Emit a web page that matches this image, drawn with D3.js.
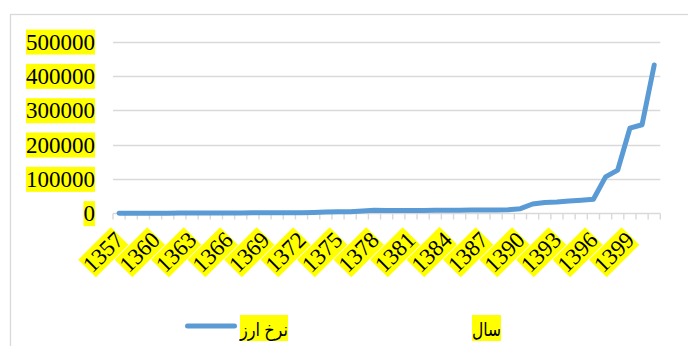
<!DOCTYPE html>
<html>
<head>
<meta charset="utf-8">
<script src="https://cdn.jsdelivr.net/npm/d3@7/dist/d3.min.js"></script>
<style>
  html, body { margin: 0; padding: 0; background: #fff; }
  svg { display: block; }
</style>
</head>
<body>
<svg id="chart" width="688" height="346"></svg>
<script>
// Years (Solar Hijri) on the category axis
const years = [
  1357, 1358, 1359, 1360, 1361, 1362, 1363, 1364, 1365, 1366,
  1367, 1368, 1369, 1370, 1371, 1372, 1373, 1374, 1375, 1376,
  1377, 1378, 1379, 1380, 1381, 1382, 1383, 1384, 1385, 1386,
  1387, 1388, 1389, 1390, 1391, 1392, 1393, 1394, 1395, 1396,
  1397, 1398, 1399, 1400, 1401
];

// Exchange rate (rial per US dollar)
const rates = [
  71, 110, 200, 350, 450, 560, 650, 770, 880, 1000,
  1100, 1250, 1400, 1450, 1500, 1750, 2650, 4000, 4200, 4700,
  6500, 8700, 8100, 7900, 7950, 8300, 8700, 9000, 9200, 9400,
  9800, 9950, 10600, 13500, 27000, 31500, 33000, 35500, 38000, 41000,
  106000, 126000, 248000, 258000, 432000
];

// Value-axis ticks
const yTicks = [0, 100000, 200000, 300000, 400000, 500000];

// Labelled years on the category axis
const xLabels = [1357, 1360, 1363, 1366, 1369, 1372, 1375, 1378, 1381, 1384, 1387, 1390, 1393, 1396, 1399];

const seriesName = "نرخ ارز";
const axisTitle = "سال";

const svg = d3.select("#chart");
const numFont = "'Liberation Serif', 'Times New Roman', serif";
const arFont = "'Liberation Serif', 'DejaVu Sans', serif";
const highlight = "#FFFF00";
const gridColor = "#D9D9D9";
const lineColor = "#5B9BD5";

// Outer chart border
svg.append("rect")
  .attr("x", 10.5).attr("y", 14.5)
  .attr("width", 760).attr("height", 400)
  .attr("fill", "none").attr("stroke", gridColor).attr("stroke-width", 1.3);

const plot = { left: 113, right: 660.3, top: 41.7, bottom: 213.3 };

const x = d3.scaleBand().domain(years).range([plot.left, plot.right]).padding(0);
const y = d3.scaleLinear().domain([0, 500000]).range([plot.bottom, plot.top]);
const cx = d => x(d) + x.bandwidth() / 2;

// Horizontal gridlines
svg.append("g").selectAll("line")
  .data(yTicks.filter(v => v > 0))
  .join("line")
  .attr("x1", plot.left).attr("x2", plot.right)
  .attr("y1", d => Math.round(y(d)) + 0.5).attr("y2", d => Math.round(y(d)) + 0.5)
  .attr("stroke", gridColor).attr("stroke-width", 1.4);

// Category axis line with boundary tick marks
const axisY = Math.round(y(0)) + 0.5;
svg.append("line")
  .attr("x1", plot.left).attr("x2", plot.right)
  .attr("y1", axisY).attr("y2", axisY)
  .attr("stroke", gridColor).attr("stroke-width", 1.4);
const bounds = years.map(d => x(d)).concat([plot.right]);
svg.append("g").selectAll("line")
  .data(bounds)
  .join("line")
  .attr("x1", d => d).attr("x2", d => d)
  .attr("y1", axisY).attr("y2", axisY + 6)
  .attr("stroke", gridColor).attr("stroke-width", 1.4);

// Value-axis labels with highlighted background
const yAxis = svg.append("g")
  .attr("transform", `translate(${plot.left},0)`)
  .call(d3.axisLeft(y).tickValues(yTicks).tickSize(0).tickPadding(18).tickFormat(d3.format("d")));
yAxis.select(".domain").remove();
yAxis.selectAll("text")
  .attr("font-family", numFont).attr("font-size", 23).attr("fill", "#000");
yAxis.selectAll(".tick").each(function () {
  const t = d3.select(this).select("text");
  const b = t.node().getBBox();
  d3.select(this).insert("rect", "text")
    .attr("x", b.x).attr("y", b.y).attr("width", b.width).attr("height", b.height)
    .attr("fill", highlight);
});

// Rotated category labels with highlighted background
const xl = svg.append("g");
xLabels.forEach(yr => {
  const g = xl.append("g")
    .attr("transform", `translate(${cx(yr) + 0.5},236) rotate(-45)`);
  const t = g.append("text")
    .attr("text-anchor", "end")
    .attr("dominant-baseline", "central")
    .attr("font-family", numFont).attr("font-size", 23)
    .attr("fill", "#000")
    .text(yr);
  const b = t.node().getBBox();
  g.insert("rect", "text")
    .attr("x", b.x).attr("y", b.y).attr("width", b.width).attr("height", b.height)
    .attr("fill", highlight);
});

// Series line
const line = d3.line()
  .x((d, i) => cx(years[i]))
  .y(d => y(d));
svg.append("path")
  .datum(rates)
  .attr("d", line)
  .attr("fill", "none")
  .attr("stroke", lineColor)
  .attr("stroke-width", 5)
  .attr("stroke-linecap", "round")
  .attr("stroke-linejoin", "round");

// Legend
const lg = svg.append("g");
lg.append("line")
  .attr("x1", 187.5).attr("x2", 234.5)
  .attr("y1", 326).attr("y2", 326)
  .attr("stroke", lineColor).attr("stroke-width", 5)
  .attr("stroke-linecap", "round");

// Arabic-script text on a highlighted box of fixed width
function boxedText(parent, xLeft, yMid, str, size, boxW) {
  parent.append("rect")
    .attr("x", xLeft).attr("y", yMid - 13).attr("width", boxW).attr("height", 26)
    .attr("fill", highlight);
  parent.append("text")
    .attr("x", xLeft).attr("y", yMid + 1)
    .attr("dominant-baseline", "central")
    .attr("font-family", arFont).attr("font-size", size)
    .attr("textLength", boxW).attr("lengthAdjust", "spacingAndGlyphs")
    .attr("fill", "#000")
    .text(str);
}
boxedText(lg, 240, 328, seriesName, 19, 48);
boxedText(svg.append("g"), 472, 328, axisTitle, 19, 29);
</script>
</body>
</html>
